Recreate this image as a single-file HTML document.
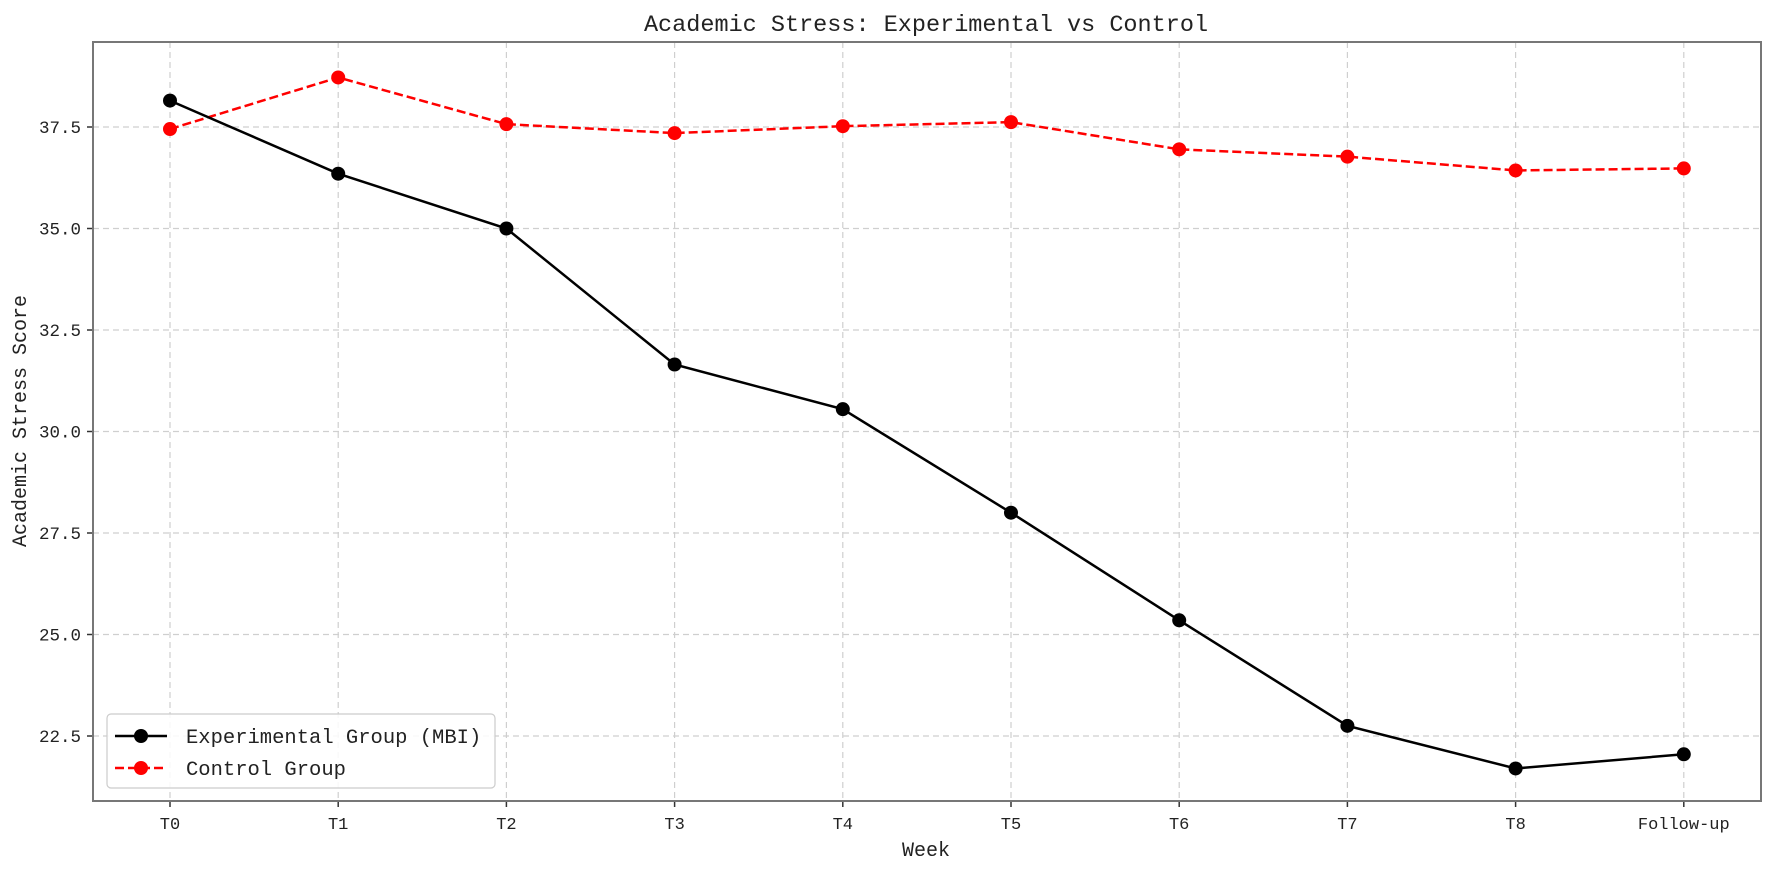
<!DOCTYPE html>
<html><head><meta charset="utf-8"><style>
html,body{margin:0;padding:0;background:#fff;}
svg text{font-family:"Liberation Mono","WenQuanYi Zen Hei",monospace;fill:#222;}
</style></head><body>
<svg width="1772" height="868" viewBox="0 0 1772 868" xmlns="http://www.w3.org/2000/svg">
<rect width="1772" height="868" fill="#fff"/>
<g id="grid" stroke="#cfcfcf" stroke-width="1.2" stroke-dasharray="6,4"></g>
<g id="ticks"></g>
<rect x="93" y="42" width="1668" height="759" fill="none" stroke="#777" stroke-width="2"/>
<text x="926" y="31" font-size="23.5" text-anchor="middle">Academic Stress: Experimental vs Control</text>
<text x="926" y="856" font-size="20" text-anchor="middle">Week</text>
<text transform="translate(26,421) rotate(-90)" font-size="20" text-anchor="middle">Academic Stress Score</text>
<g id="series"></g>
<rect x="107" y="714" width="388" height="74" rx="4" fill="#fff" fill-opacity="0.85" stroke="#ccc" stroke-width="1.2"/>
<line x1="115" y1="736" x2="167" y2="736" stroke="#000" stroke-width="2.5"/>
<circle cx="141" cy="736" r="7" fill="#000"/>
<text x="186" y="743" font-size="20.5">Experimental Group (MBI)</text>
<line x1="115" y1="768" x2="167" y2="768" stroke="#f00" stroke-width="2.5" stroke-dasharray="9,4"/>
<circle cx="141" cy="768" r="7" fill="#f00"/>
<text x="186" y="775" font-size="20.5">Control Group</text>
<script>
(function(){
var ns="http://www.w3.org/2000/svg";
function el(t,a,p,txt){var e=document.createElementNS(ns,t);for(var k in a)e.setAttribute(k,a[k]);if(txt)e.textContent=txt;document.getElementById(p).appendChild(e);return e;}
function X(i){return 170+i*168.2;}
function Y(v){return 127+(37.5-v)*40.6;}
var labs=["T0","T1","T2","T3","T4","T5","T6","T7","T8","Follow-up"];
for(var i=0;i<10;i++){
 el("line",{x1:X(i),x2:X(i),y1:42,y2:801},"grid");
 el("line",{x1:X(i),x2:X(i),y1:801,y2:807,stroke:"#333","stroke-width":1.5},"ticks");
 el("text",{x:X(i),y:829,"font-size":17,"text-anchor":"middle"},"ticks",labs[i]);
}
var yt=[22.5,25,27.5,30,32.5,35,37.5];
yt.forEach(function(v){
 el("line",{x1:93,x2:1761,y1:Y(v),y2:Y(v)},"grid");
 el("line",{x1:87,x2:93,y1:Y(v),y2:Y(v),stroke:"#333","stroke-width":1.5},"ticks");
 el("text",{x:81,y:Y(v)+6,"font-size":17.5,"text-anchor":"end"},"ticks",v.toFixed(1));
});
var ex=[38.15,36.35,35.0,31.65,30.55,28.0,25.35,22.75,21.7,22.05];
var ct=[37.45,38.72,37.57,37.35,37.52,37.62,36.95,36.77,36.43,36.48];
function pts(d){return d.map(function(v,i){return X(i)+","+Y(v);}).join(" ");}
el("polyline",{points:pts(ct),fill:"none",stroke:"#f00","stroke-width":2.5,"stroke-dasharray":"9,4"},"series");
ct.forEach(function(v,i){el("circle",{cx:X(i),cy:Y(v),r:7,fill:"#f00"},"series");});
el("polyline",{points:pts(ex),fill:"none",stroke:"#000","stroke-width":2.5},"series");
ex.forEach(function(v,i){el("circle",{cx:X(i),cy:Y(v),r:7,fill:"#000"},"series");});
})();
</script>
</svg>
</body></html>
